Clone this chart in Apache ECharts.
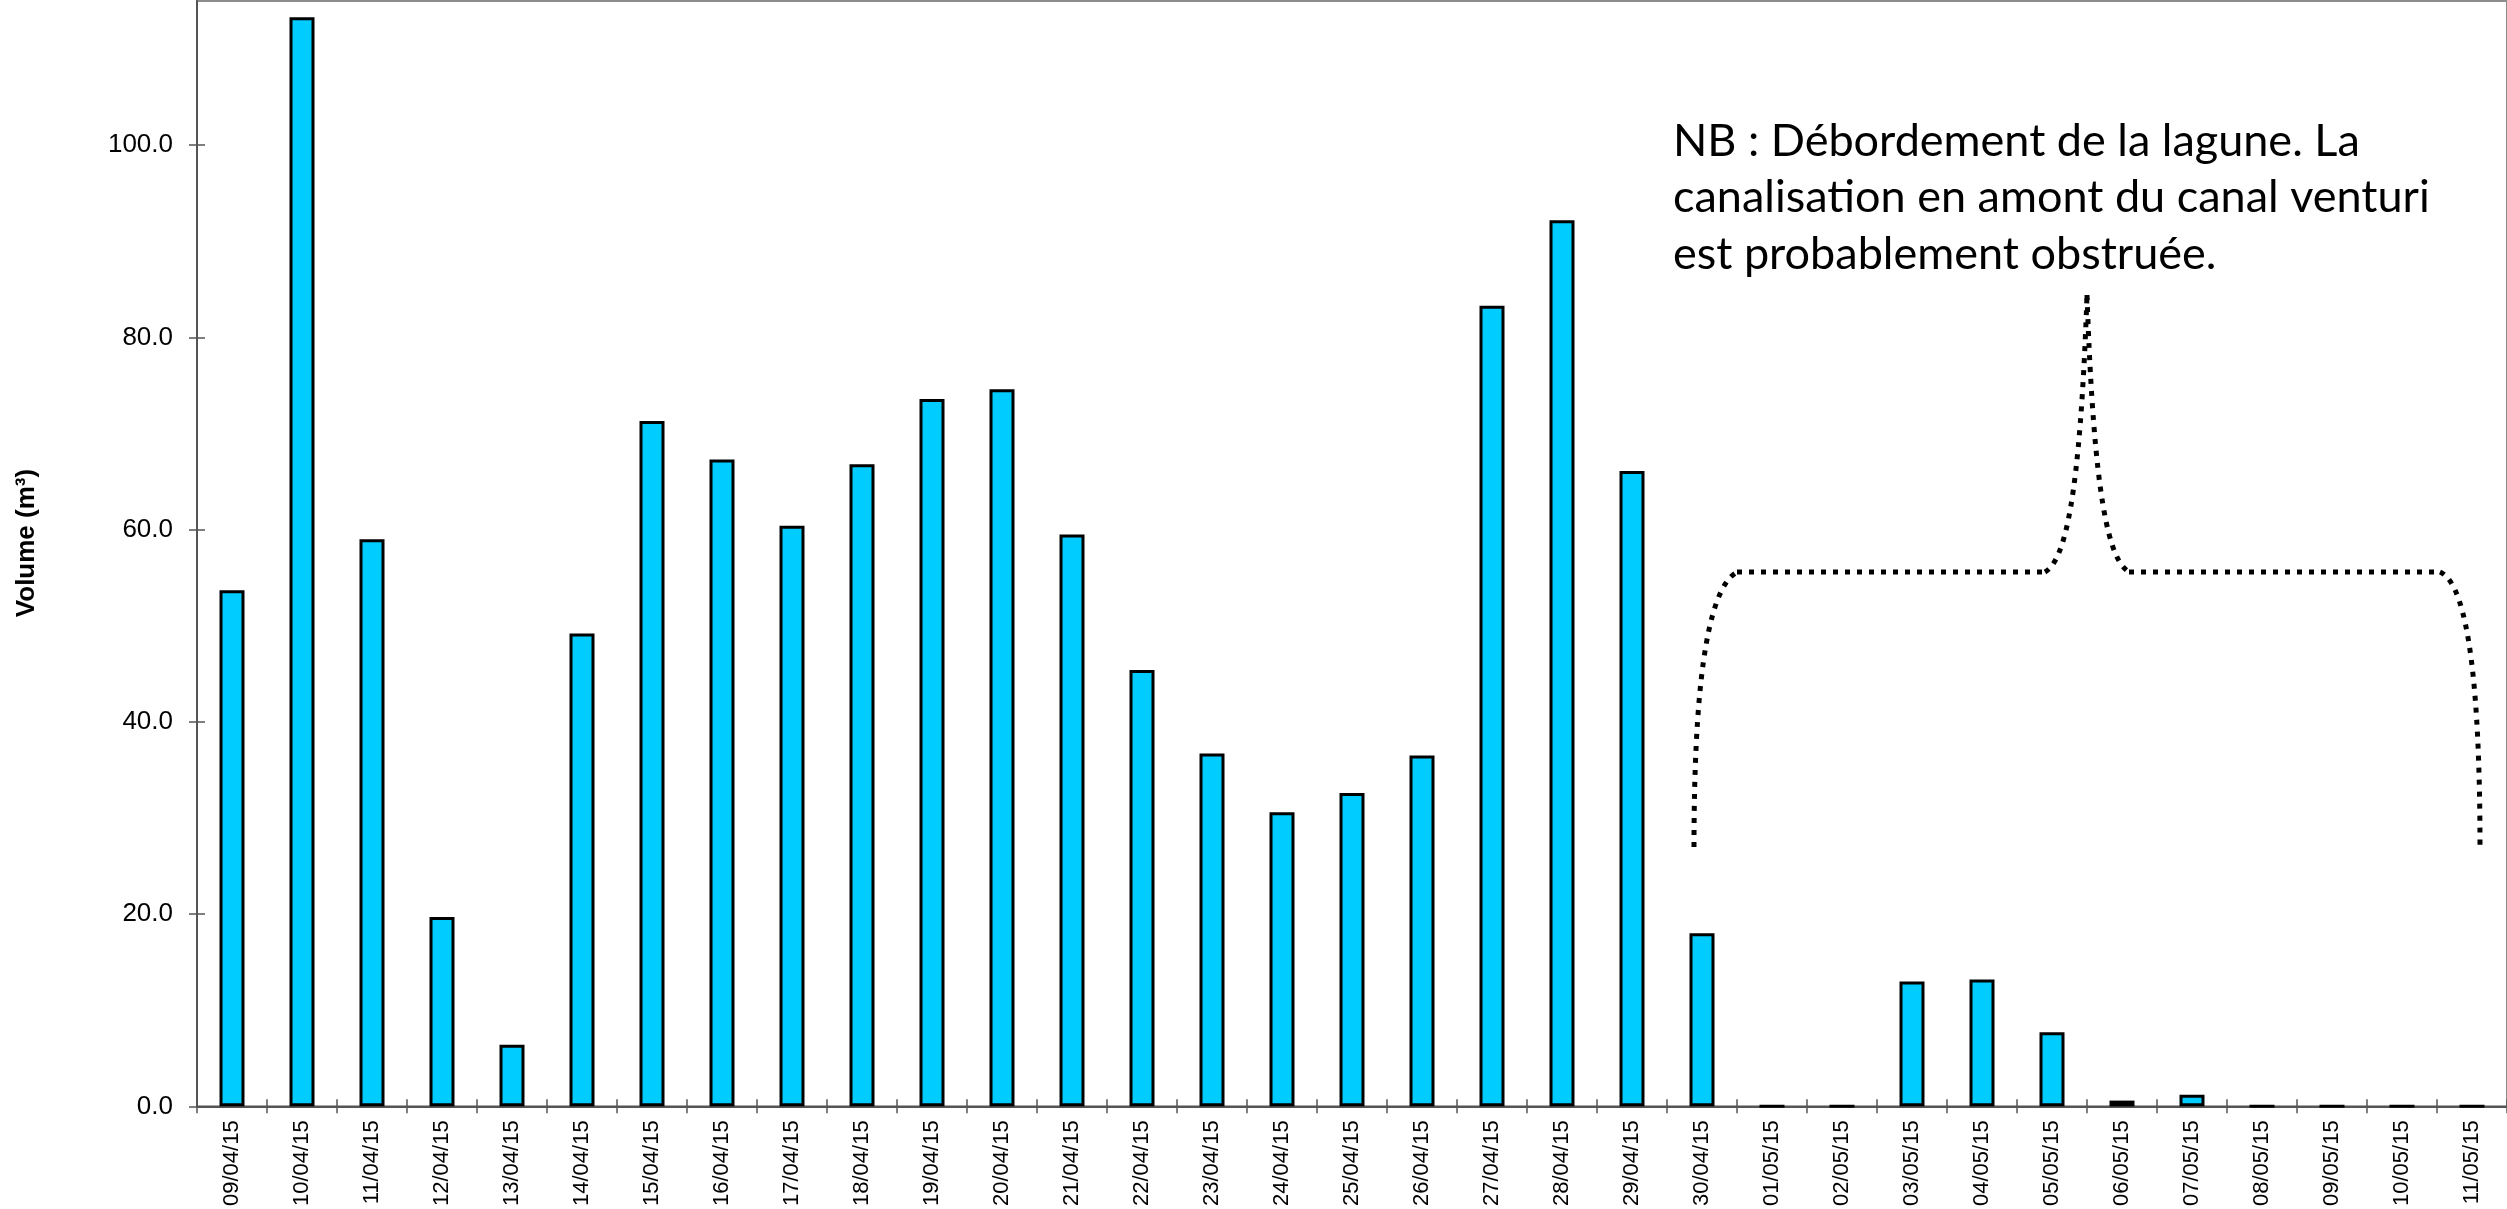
<!DOCTYPE html>
<html>
<head>
<meta charset="utf-8">
<script src="https://cdn.jsdelivr.net/npm/echarts@6/dist/echarts.min.js"></script>
<style>
html,body{margin:0;padding:0;background:#fff;}
#chart{width:2507px;height:1209px;}
</style>
</head>
<body>
<div id="chart"></div>
<script>
const categories = ["09/04/15","10/04/15","11/04/15","12/04/15","13/04/15","14/04/15","15/04/15","16/04/15","17/04/15","18/04/15","19/04/15","20/04/15","21/04/15","22/04/15","23/04/15","24/04/15","25/04/15","26/04/15","27/04/15","28/04/15","29/04/15","30/04/15","01/05/15","02/05/15","03/05/15","04/05/15","05/05/15","06/05/15","07/05/15","08/05/15","09/05/15","10/05/15","11/05/15"];
const volumes = [53.7,113.3,59.0,19.7,6.4,49.2,71.3,67.3,60.4,66.8,73.6,74.6,59.5,45.4,36.7,30.6,32.6,36.5,83.3,92.2,66.1,18.0,0,0,13.0,13.2,7.7,0.6,1.2,0,0,0,0];
const yTicks = [0,20,40,60,80,100];
const yAxisTitle = "Volume (m³)";
const noteLines = ["NB : Débordement de la lagune. La","canalisation en amont du canal venturi","est probablement obstruée."];

const chart = echarts.init(document.getElementById('chart'), null, {renderer:'canvas'});
const labelFont = "'Liberation Sans', Arial, sans-serif";
const yMax = 115;

const braceStyle = {fill:null, stroke:'#000', lineWidth:5, lineDash:[5,7]};
function bez(x1,y1,c1x,c1y,c2x,c2y,x2,y2){
  return {type:'bezierCurve', shape:{x1:x1,y1:y1,cpx1:c1x,cpy1:c1y,cpx2:c2x,cpy2:c2y,x2:x2,y2:y2}, style:braceStyle, z:10};
}
function seg(x1,y1,x2,y2){
  return {type:'line', shape:{x1:x1,y1:y1,x2:x2,y2:y2}, style:braceStyle, z:10};
}

const option = {
  animation:false,
  backgroundColor:'#fff',
  grid:{left:197, right:-2, top:1, bottom:100, show:true, borderColor:'#8c8c8c', borderWidth:2, backgroundColor:'transparent'},
  xAxis:[
    {type:'category', data:categories, position:'bottom',
     axisLine:{lineStyle:{color:'#555', width:2}},
     axisTick:{show:true, length:7, inside:false, lineStyle:{color:'#555', width:1.5}},
     axisLabel:{rotate:90, margin:14, fontFamily:labelFont, fontSize:22, color:'#000'},
     splitLine:{show:false}},
    {type:'category', data:categories, position:'bottom',
     axisLine:{show:false},
     axisTick:{show:true, length:7, inside:true, lineStyle:{color:'#555', width:1.5}},
     axisLabel:{show:false}, splitLine:{show:false}}
  ],
  yAxis:[
    {type:'value', min:0, max:yMax, position:'left',
     axisLine:{show:true, lineStyle:{color:'#555', width:2}},
     axisTick:{show:true, length:8, inside:false, customValues:yTicks, lineStyle:{color:'#555', width:1.5}},
     axisLabel:{customValues:yTicks, margin:24, fontFamily:labelFont, fontSize:26, color:'#000', formatter:v=>v.toFixed(1)},
     splitLine:{show:false}},
    {type:'value', min:0, max:yMax, position:'left',
     axisLine:{show:false},
     axisTick:{show:true, length:8, inside:true, customValues:yTicks, lineStyle:{color:'#555', width:1.5}},
     axisLabel:{show:false}, splitLine:{show:false}}
  ],
  series:[
    {type:'bar', data:volumes, xAxisIndex:0, yAxisIndex:0, barWidth:25,
     itemStyle:{color:'#00CCFF', borderColor:'#000', borderWidth:3}}
  ],
  graphic:[
    {type:'text', x:27, y:543, rotation:Math.PI/2,
     style:{text:yAxisTitle, font:"bold 26px 'Liberation Sans', Arial, sans-serif", fill:'#000', align:'center', verticalAlign:'middle'}},
    {type:'text', x:1673, y:113,
     style:{text:noteLines.join('\n'), font:"45px Lato, 'Open Sans', sans-serif", lineHeight:56.5, fill:'#000', align:'left', verticalAlign:'top'}},
    bez(1694,847, 1694,700, 1705,590, 1737,572),
    seg(1737,572, 2045,572),
    bez(2045,572, 2065,560, 2080,500, 2087,295),
    bez(2087,295, 2094,500, 2109,560, 2129,572),
    seg(2129,572, 2440,572),
    bez(2440,572, 2470,585, 2480,700, 2480,848)
  ]
};
chart.setOption(option);
</script>
</body>
</html>
